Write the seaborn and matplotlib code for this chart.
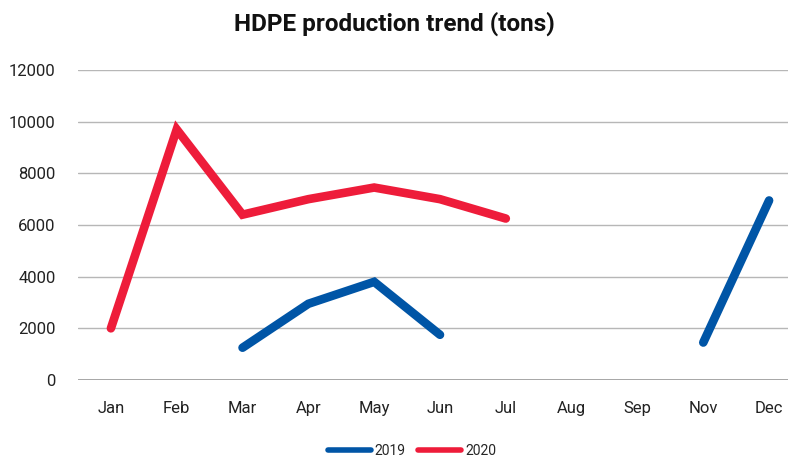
import numpy as np
import pandas as pd
import matplotlib.pyplot as plt
import seaborn as sns
from matplotlib.lines import Line2D

months = ["Jan", "Feb", "Mar", "Apr", "May", "Jun", "Jul", "Aug", "Sep", "Nov", "Dec"]
tons_2019 = [np.nan, np.nan, 1250, 2950, 3800, 1750, np.nan, np.nan, np.nan, 1450, 6950]
tons_2020 = [2000, 9700, 6400, 7000, 7450, 7000, 6250, np.nan, np.nan, np.nan, np.nan]
series = {"2019": tons_2019, "2020": tons_2020}
colors = {"2019": "#0055A6", "2020": "#EE1C3A"}

sns.set_style("white")
plt.rcParams["font.family"] = ["Roboto", "DejaVu Sans"]

fig = plt.figure(figsize=(7.88, 4.57), dpi=100)
ax = fig.add_axes([78 / 788, 77 / 457, 724 / 788, 310 / 457])

pos = np.arange(len(months))
for name, vals in series.items():
    df = pd.DataFrame({"x": pos, "y": vals})
    # split into runs so gaps stay empty
    run = df["y"].isna().cumsum()
    for _, seg in df.dropna().groupby(run[df["y"].notna()]):
        sns.lineplot(data=seg, x="x", y="y", ax=ax, color=colors[name],
                     linewidth=6.2, solid_capstyle="round", solid_joinstyle="miter")

ax.set_xlim(-0.5, len(months) - 0.5)
ax.set_ylim(0, 12000)
ax.set_yticks(range(0, 12001, 2000))
ax.set_xticks(pos)
ax.set_xticklabels(months)
ax.yaxis.grid(True, color="#b7b7b7", linewidth=1)
ax.set_axisbelow(True)
ax.axhline(0, color="#9a9a9a", linewidth=1.2, zorder=1)
for s in ax.spines.values():
    s.set_visible(False)
ax.tick_params(axis="both", length=0, labelsize=12, colors="#222222")
ax.tick_params(axis="x", pad=15)
ax.tick_params(axis="y", pad=16)
ax.set_xlabel("")
ax.set_ylabel("")

fig.suptitle("HDPE production trend (tons)", x=0.5, y=0.975, fontsize=17.5,
             fontweight="bold", color="#111111")

handles = [Line2D([0], [0], color=colors[n], linewidth=4, solid_capstyle="round") for n in series]
fig.legend(handles, list(series.keys()), loc="center", bbox_to_anchor=(0.523, 0.013),
           ncol=2, frameon=False, fontsize=10, handlelength=3.1, handletextpad=0.3,
           columnspacing=0.9)

fig.savefig("out.png", dpi=100)
